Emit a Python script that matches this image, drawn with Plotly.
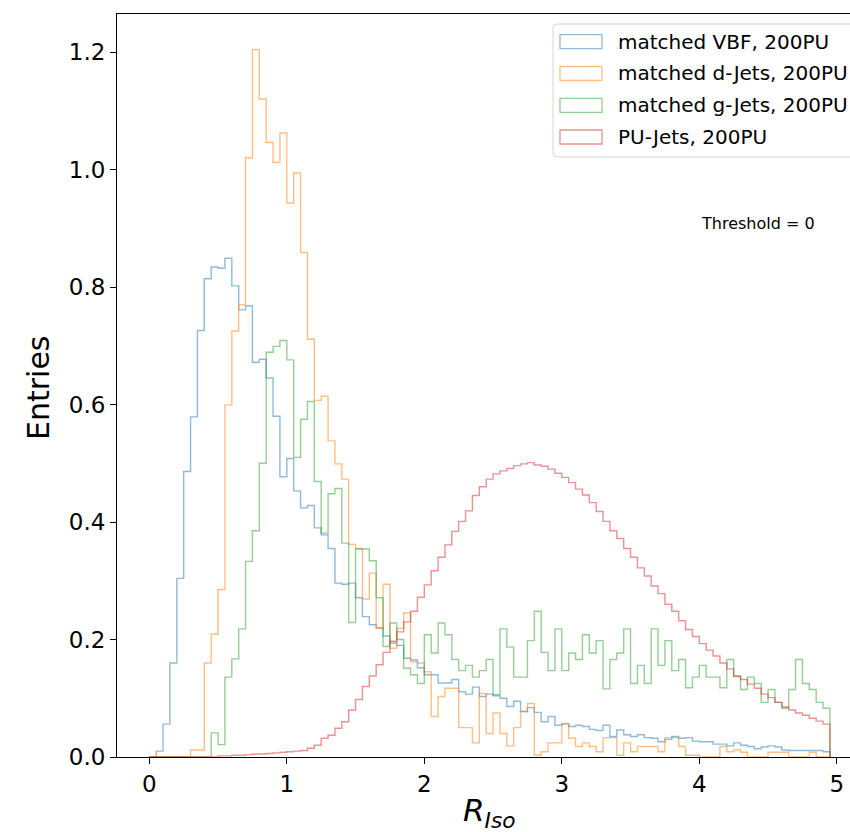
import numpy as np
import plotly.graph_objects as go

# ---------------- data (bin width 0.05, bins start at 0) ----------------
BIN_WIDTH = 0.05
BIN_START = 0.0

vbf = [0, 0.010, 0.056, 0.160, 0.304, 0.486, 0.579, 0.726, 0.814, 0.834,
       0.832, 0.849, 0.802, 0.761, 0.768, 0.672, 0.677, 0.645, 0.580, 0.477,
       0.508, 0.453, 0.424, 0.428, 0.390, 0.378, 0.355, 0.296, 0.294, 0.296,
       0.271, 0.239, 0.225, 0.220, 0.206, 0.194, 0.190, 0.168, 0.165, 0.152,
       0.140, 0.140, 0.126, 0.126, 0.132, 0.111, 0.107, 0.119, 0.103, 0.107,
       0.104, 0.100, 0.086, 0.095, 0.078, 0.084, 0.076, 0.060, 0.069, 0.054,
       0.056, 0.052, 0.054, 0.052, 0.047, 0.045, 0.054, 0.035, 0.046, 0.038,
       0.035, 0.038, 0.033, 0.032, 0.026, 0.030, 0.035, 0.032, 0.033, 0.027,
       0.026, 0.026, 0.022, 0.022, 0.019, 0.024, 0.020, 0.018, 0.014, 0.017,
       0.019, 0.017, 0.012, 0.011, 0.011, 0.011, 0.011, 0.011, 0.009]

djets = [0, 0, 0, 0, 0, 0, 0.012, 0.012, 0.160, 0.209,
         0.285, 0.599, 0.725, 0.770, 1.020, 1.204, 1.120, 1.046, 1.012, 1.062,
         0.943, 0.994, 0.859, 0.711, 0.607, 0.614, 0.538, 0.499, 0.473, 0.362,
         0.355, 0.269, 0.313, 0.219, 0.294, 0.185, 0.219, 0.245, 0.162, 0.160,
         0.145, 0.069, 0.103, 0.117, 0.117, 0.050, 0.050, 0.024, 0.108, 0.040,
         0.075, 0.040, 0.019, 0.050, 0.077, 0.091, 0.003, 0.009, 0.024, 0.024,
         0.057, 0.032, 0.018, 0.024, 0.018, 0.009, 0.033, 0.033, 0.003, 0.024,
         0.009, 0.018, 0.018, 0.018, 0.009, 0.033, 0.033, 0.018, 0.003, 0.003,
         0.0, 0.0, 0.0, 0.018, 0.009, 0.012, 0.008, 0.0, 0.0, 0.0,
         0.008, 0.008, 0.008, 0.0, 0.0, 0.0, 0.008, 0.0, 0.0]

gjets = [0, 0, 0, 0, 0, 0, 0, 0, 0, 0.041,
         0.021, 0.136, 0.167, 0.218, 0.333, 0.385, 0.500, 0.689, 0.699, 0.709,
         0.676, 0.510, 0.575, 0.605, 0.469, 0.381, 0.448, 0.457, 0.364, 0.229,
         0.354, 0.354, 0.334, 0.271, 0.188, 0.228, 0.200, 0.151, 0.140, 0.125,
         0.208, 0.177, 0.228, 0.208, 0.166, 0.147, 0.156, 0.136, 0.147, 0.166,
         0.106, 0.218, 0.187, 0.136, 0.136, 0.198, 0.248, 0.178, 0.147, 0.218,
         0.147, 0.177, 0.166, 0.208, 0.177, 0.198, 0.116, 0.166, 0.177, 0.218,
         0.125, 0.156, 0.125, 0.218, 0.156, 0.198, 0.147, 0.166, 0.118, 0.136,
         0.156, 0.136, 0.136, 0.118, 0.166, 0.137, 0.115, 0.136, 0.125, 0.093,
         0.115, 0.093, 0.083, 0.115, 0.166, 0.125, 0.115, 0.093, 0.083]

pujets = [0, 0, 0, 0, 0, 0, 0, 0, 0, 0,
          0.002, 0.002, 0.003, 0.003, 0.004, 0.005, 0.005, 0.006, 0.007, 0.008,
          0.009, 0.010, 0.011, 0.015, 0.020, 0.032, 0.037, 0.049, 0.060, 0.080,
          0.098, 0.120, 0.138, 0.157, 0.178, 0.197, 0.213, 0.230, 0.248, 0.272,
          0.293, 0.317, 0.340, 0.361, 0.384, 0.401, 0.419, 0.445, 0.460, 0.473,
          0.482, 0.487, 0.491, 0.496, 0.499, 0.501, 0.497, 0.495, 0.490, 0.483,
          0.476, 0.467, 0.456, 0.446, 0.433, 0.418, 0.401, 0.385, 0.372, 0.355,
          0.340, 0.322, 0.308, 0.291, 0.278, 0.260, 0.248, 0.232, 0.217, 0.205,
          0.193, 0.182, 0.172, 0.160, 0.150, 0.138, 0.132, 0.124, 0.117, 0.107,
          0.101, 0.093, 0.085, 0.080, 0.075, 0.071, 0.066, 0.061, 0.056]

series_names = ["matched VBF, 200PU", "matched d-Jets, 200PU",
                "matched g-Jets, 200PU", "PU-Jets, 200PU"]
series_values = [vbf, djets, gjets, pujets]
series_colors = ["rgba(31,119,180,0.5)", "rgba(255,127,14,0.5)",
                 "rgba(44,160,44,0.5)", "rgba(214,39,40,0.5)"]

x_ticks = [0, 1, 2, 3, 4, 5]
y_ticks = [0.0, 0.2, 0.4, 0.6, 0.8, 1.0, 1.2]
y_ticklabels = ["0.0", "0.2", "0.4", "0.6", "0.8", "1.0", "1.2"]

# ---------------- layout geometry (pixels) ----------------
W, H = 850, 832
ML, MR, MT, MB = 117, 0, 14, 75
PW, PH = W - ML - MR, H - MT - MB
FONT = "DejaVu Sans"


def px_x(p):
    return (p - ML) / PW


def px_y(p):
    return (H - MB - p) / PH


fig = go.Figure()

for name, vals, col in zip(series_names, series_values, series_colors):
    v = np.asarray(vals, dtype=float)
    edges = BIN_START + BIN_WIDTH * np.arange(len(v) + 1)
    xs = np.concatenate([[edges[0]], edges])
    ys = np.concatenate([[0.0], v, [0.0]])
    fig.add_trace(go.Scatter(x=xs, y=ys, mode="lines", line_shape="hv",
                             line=dict(color=col, width=1.4),
                             name=name, showlegend=False, hoverinfo="skip"))

fig.update_layout(
    width=W, height=H,
    margin=dict(l=ML, r=MR, t=MT, b=MB, pad=0),
    paper_bgcolor="white", plot_bgcolor="white",
    font=dict(family=FONT, color="black"),
    showlegend=False,
)
fig.update_xaxes(range=[-0.235, 5.096], tickvals=x_ticks,
                 ticktext=[str(t) for t in x_ticks],
                 ticks="outside", ticklen=6, tickwidth=1, tickcolor="black",
                 tickfont=dict(size=23, family=FONT, color="black"),
                 showline=True, linecolor="black", linewidth=1, mirror=True,
                 showgrid=False, zeroline=False)
fig.update_yaxes(range=[0, 743 / 587.5], tickvals=y_ticks, ticktext=y_ticklabels,
                 ticks="outside", ticklen=6, tickwidth=1, tickcolor="black",
                 tickfont=dict(size=23, family=FONT, color="black"),
                 showline=True, linecolor="black", linewidth=1, mirror=False,
                 showgrid=False, zeroline=False)

# axis titles
fig.add_annotation(text="Entries", xref="paper", yref="paper",
                   x=px_x(38), y=px_y(388), xanchor="center", yanchor="middle",
                   textangle=-90, showarrow=False,
                   font=dict(size=30, family=FONT, color="black"))
fig.add_annotation(text="<i>R</i><sub><i>Iso</i></sub>", xref="paper", yref="paper",
                   x=px_x(489), y=px_y(812), xanchor="center", yanchor="middle",
                   showarrow=False,
                   font=dict(size=31, family=FONT, color="black"))

# threshold text
fig.add_annotation(text="Threshold = 0", xref="paper", yref="paper",
                   x=px_x(699), y=px_y(223), xanchor="left", yanchor="middle",
                   showarrow=False, font=dict(size=16, family=FONT, color="black"))

# legend (matplotlib style box with rectangle patches)
bx0, bx1, by0, by1, r = 553, 870, 24, 157, 4
path = (f"M {px_x(bx0 + r)} {px_y(by0)} L {px_x(bx1 - r)} {px_y(by0)} "
        f"Q {px_x(bx1)} {px_y(by0)} {px_x(bx1)} {px_y(by0 + r)} "
        f"L {px_x(bx1)} {px_y(by1 - r)} "
        f"Q {px_x(bx1)} {px_y(by1)} {px_x(bx1 - r)} {px_y(by1)} "
        f"L {px_x(bx0 + r)} {px_y(by1)} "
        f"Q {px_x(bx0)} {px_y(by1)} {px_x(bx0)} {px_y(by1 - r)} "
        f"L {px_x(bx0)} {px_y(by0 + r)} "
        f"Q {px_x(bx0)} {px_y(by0)} {px_x(bx0 + r)} {px_y(by0)} Z")
fig.add_shape(type="path", path=path, xref="paper", yref="paper",
              line=dict(color="#d5d5d5", width=1),
              fillcolor="rgba(255,255,255,0.8)", layer="above")

row_centers = [41.7, 73.5, 105.3, 137.0]
for name, col, cy in zip(series_names, series_colors, row_centers):
    fig.add_shape(type="rect", xref="paper", yref="paper",
                  x0=px_x(560), x1=px_x(602), y0=px_y(cy - 7), y1=px_y(cy + 7),
                  line=dict(color=col, width=1.3), fillcolor="rgba(0,0,0,0)",
                  layer="above")
    fig.add_annotation(text=name, xref="paper", yref="paper",
                       x=px_x(616), y=px_y(cy), xanchor="left", yanchor="middle",
                       showarrow=False,
                       font=dict(size=20, family=FONT, color="black"))

fig.write_html("out.html")
